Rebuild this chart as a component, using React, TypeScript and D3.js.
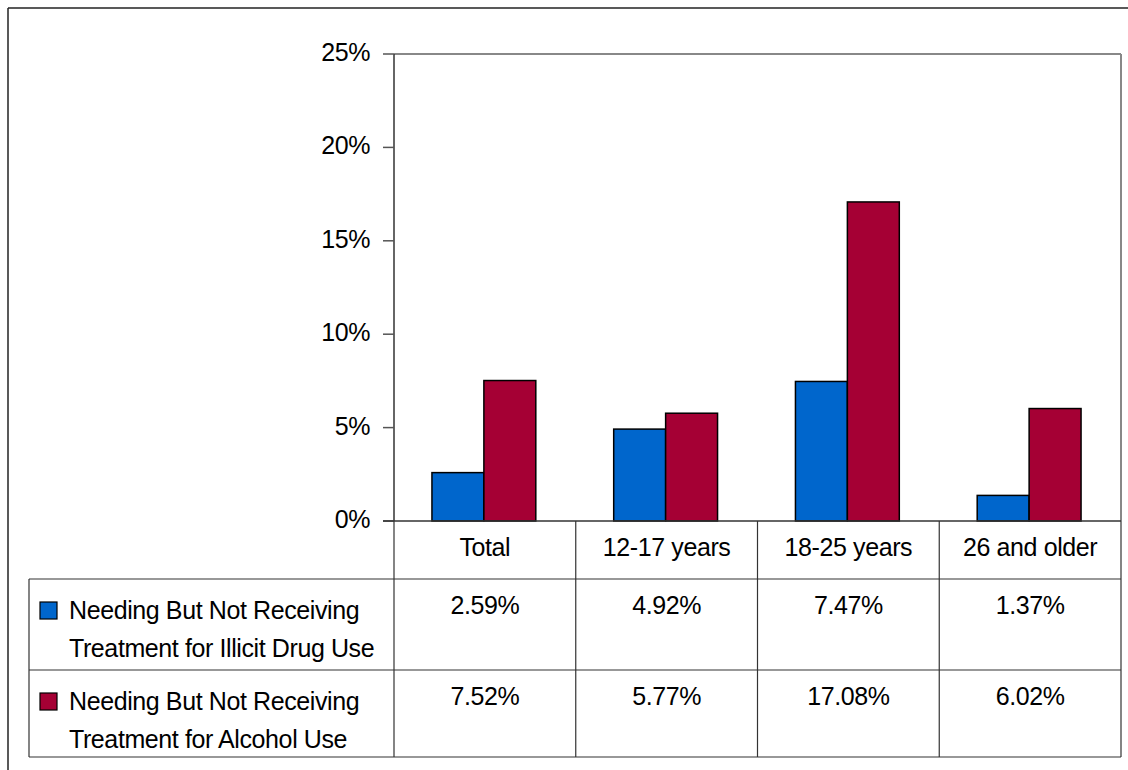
import React from "react";
import * as d3 from "d3";

const categories = ["Total", "12-17 years", "18-25 years", "26 and older"];
const drugValues = [2.59, 4.92, 7.47, 1.37];
const alcoholValues = [7.52, 5.77, 17.08, 6.02];
const seriesNames = [
  ["Needing But Not Receiving", "Treatment for Illicit Drug Use"],
  ["Needing But Not Receiving", "Treatment for Alcohol Use"],
];
const seriesColors = ["#0066CC", "#A50034"];
const yTicks = [0, 5, 10, 15, 20, 25];

const W = 1128;
const H = 770;
const plotLeft = 394;
const plotRight = 1121;
const plotTop = 54;
const plotBottom = 521;
const catRowBottom = 579;
const row1Bottom = 670;
const row2Bottom = 757;
const tableLeft = 29;
const FONT = "'Liberation Sans', Arial, sans-serif";
const FS = 25;
const LS = -0.4;

export default function App() {
  const y = d3.scaleLinear().domain([0, 25]).range([plotBottom, plotTop]);
  const x0 = d3.scaleBand<string>().domain(categories).range([plotLeft, plotRight]).paddingInner(0).paddingOuter(0);
  const colW = x0.bandwidth();
  const barW = colW / 3.5;
  const series = [drugValues, alcoholValues];
  const rowTops = [catRowBottom, row1Bottom];

  return (
    <svg width={W} height={H} style={{ position: "absolute", left: 0, top: 0, background: "#fff" }}>
      <rect x={0} y={0} width={W} height={H} fill="#fff" />
      {/* outer frame */}
      <line x1={8} y1={8} x2={W} y2={8} stroke="#222" strokeWidth={1.5} />
      <line x1={8} y1={8} x2={8} y2={H} stroke="#222" strokeWidth={1.5} />

      {/* plot border top and right */}
      <line x1={plotLeft} y1={plotTop} x2={plotRight} y2={plotTop} stroke="#888" strokeWidth={2} />
      <line x1={plotRight} y1={plotTop} x2={plotRight} y2={plotBottom} stroke="#888" strokeWidth={2} />

      {/* bars */}
      {categories.map((c, i) => {
        const cx = (x0(c) as number) + colW / 2 - 1;
        return series.map((vals, s) => (
          <rect
            key={c + s}
            x={cx - barW + s * barW}
            y={y(vals[i])}
            width={barW}
            height={y(0) - y(vals[i])}
            fill={seriesColors[s]}
            stroke="#000"
            strokeWidth={1.5}
          />
        ));
      })}

      {/* y axis */}
      <line x1={plotLeft} y1={plotTop} x2={plotLeft} y2={plotBottom} stroke="#333" strokeWidth={1.5} />
      {yTicks.map((t) => (
        <g key={t}>
          <line x1={plotLeft - 11} y1={y(t)} x2={plotLeft} y2={y(t)} stroke="#555" strokeWidth={1.5} />
          <text x={370} y={y(t) + 7} textAnchor="end" fontFamily={FONT} fontSize={FS} letterSpacing={LS} fill="#000">
            {t + "%"}
          </text>
        </g>
      ))}
      {/* baseline */}
      <line x1={plotLeft - 11} y1={plotBottom} x2={plotRight} y2={plotBottom} stroke="#333" strokeWidth={1.5} />

      {/* data table */}
      {categories.map((c, i) => (
        <line key={"v" + i} x1={x0(c) as number} y1={plotBottom} x2={x0(c) as number} y2={row2Bottom} stroke="#333" strokeWidth={1.2} />
      ))}
      <line x1={plotRight} y1={plotBottom} x2={plotRight} y2={row2Bottom} stroke="#333" strokeWidth={1.2} />
      <line x1={tableLeft} y1={catRowBottom} x2={plotRight} y2={catRowBottom} stroke="#333" strokeWidth={1.2} />
      <line x1={tableLeft} y1={row1Bottom} x2={plotRight} y2={row1Bottom} stroke="#333" strokeWidth={1.2} />
      <line x1={tableLeft} y1={row2Bottom} x2={plotRight} y2={row2Bottom} stroke="#333" strokeWidth={1.2} />
      <line x1={tableLeft} y1={catRowBottom} x2={tableLeft} y2={row2Bottom} stroke="#333" strokeWidth={1.2} />

      {categories.map((c) => (
        <text key={"c" + c} x={(x0(c) as number) + colW / 2} y={556} textAnchor="middle" fontFamily={FONT} fontSize={FS} letterSpacing={LS} fill="#000">
          {c}
        </text>
      ))}

      {series.map((vals, s) => (
        <g key={"row" + s}>
          <rect x={40} y={rowTops[s] + 23} width={17} height={17} fill={seriesColors[s]} stroke="#000" strokeWidth={1.2} />
          <text x={69} y={rowTops[s] + 40} fontFamily={FONT} fontSize={FS} letterSpacing={LS} fill="#000">
            {seriesNames[s][0]}
          </text>
          <text x={69} y={rowTops[s] + 78} fontFamily={FONT} fontSize={FS} letterSpacing={LS} fill="#000">
            {seriesNames[s][1]}
          </text>
          {categories.map((c, i) => (
            <text key={c} x={(x0(c) as number) + colW / 2} y={rowTops[s] + 35} textAnchor="middle" fontFamily={FONT} fontSize={FS} letterSpacing={LS} fill="#000">
              {vals[i].toFixed(2) + "%"}
            </text>
          ))}
        </g>
      ))}
    </svg>
  );
}
